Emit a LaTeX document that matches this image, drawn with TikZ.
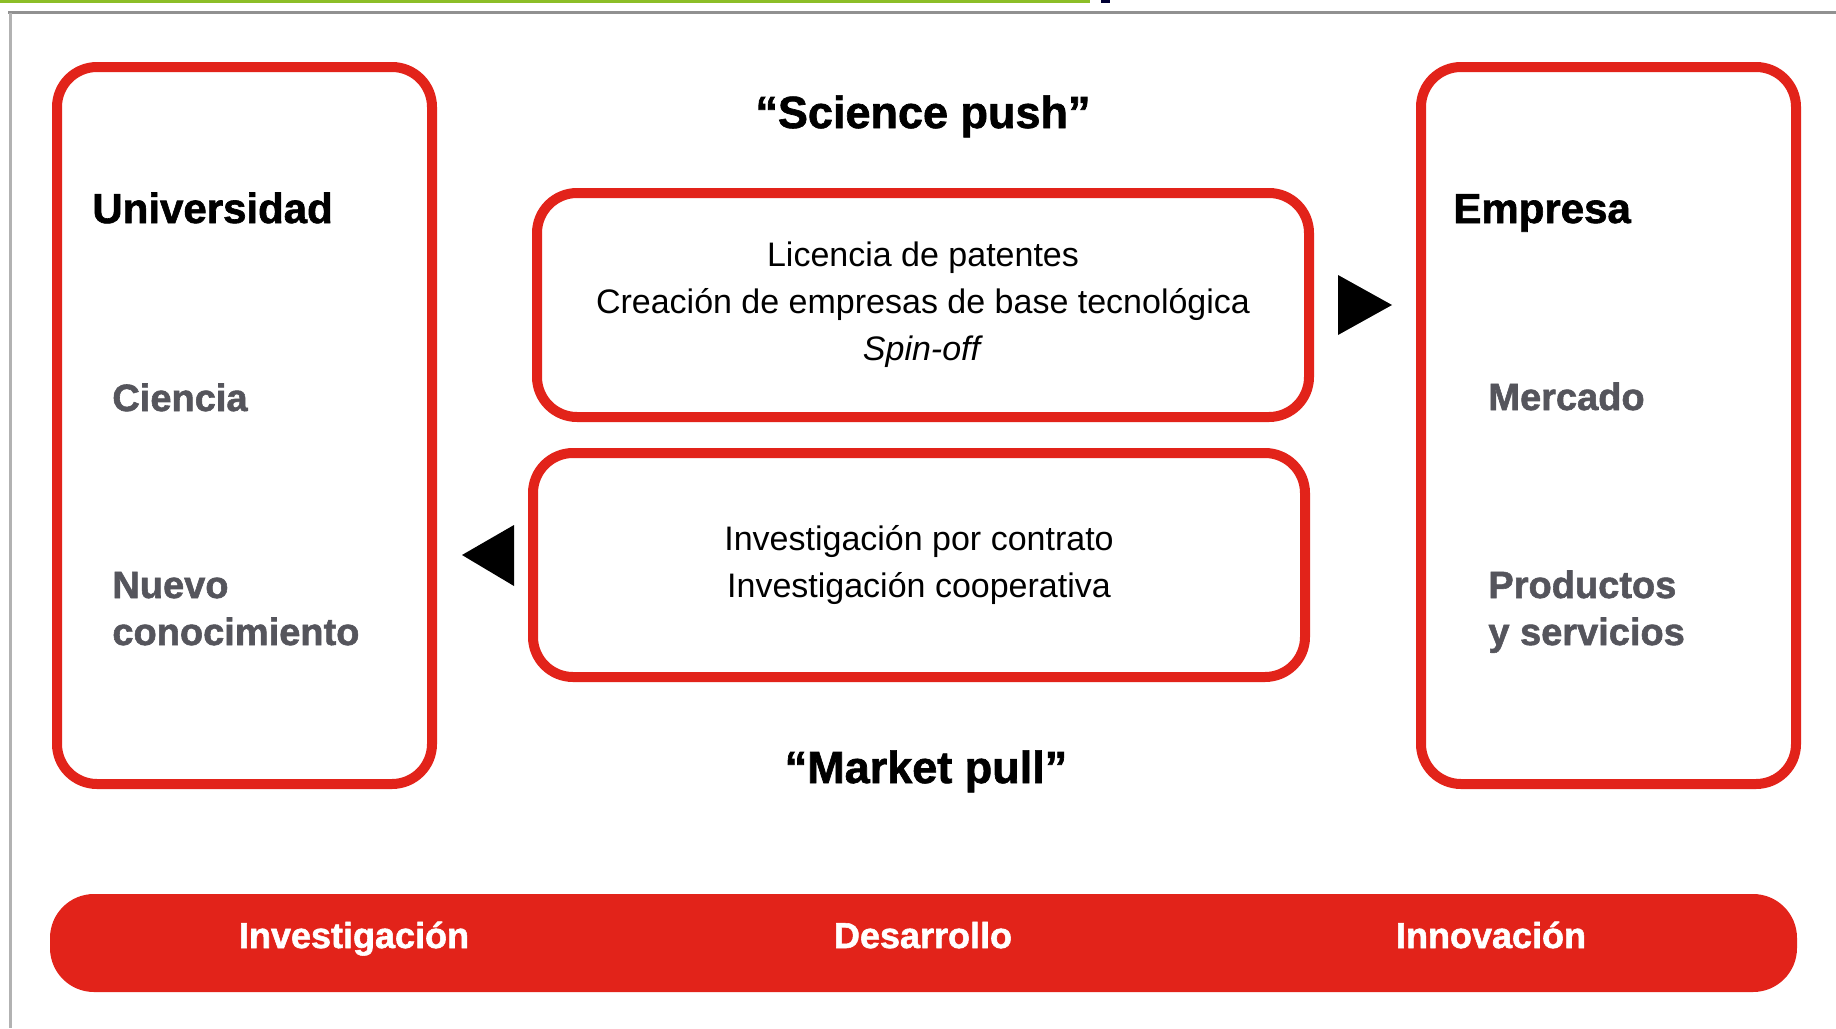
\documentclass[tikz,border=0pt]{standalone}
\usepackage{fontspec}
\setmainfont{Liberation Sans}
\newfontfamily\heavyfont{Liberation Sans Bold}[FakeBold=1.5]
\usetikzlibrary{positioning}

\definecolor{cvred}{RGB}{226,35,26}
\definecolor{labelgray}{RGB}{85,85,92}
\definecolor{framegray}{RGB}{145,145,145}
\definecolor{topgreen}{RGB}{140,190,40}

\begin{document}
\begin{tikzpicture}[x=0.5pt,y=-0.5pt,
  redbox/.style={draw=cvred,line width=5pt,rounded corners=20pt,inner sep=0pt},
  head/.style={font=\heavyfont\fontsize{21}{25}\selectfont,anchor=base west,inner sep=0pt},
  sublabel/.style={font=\heavyfont\fontsize{19}{23.5}\selectfont,text=labelgray,anchor=base west,align=left,inner sep=0pt},
  flow/.style={font=\fontsize{17}{23.5}\selectfont,align=center},
  motto/.style={font=\heavyfont\fontsize{22.5}{27}\selectfont,anchor=base,inner sep=0pt},
  stage/.style={font=\heavyfont\fontsize{18}{22}\selectfont,text=white,anchor=base,inner sep=0pt}]
  \useasboundingbox (0,0) rectangle (1836,1028);

  % page frame
  \fill[topgreen] (0,0) rectangle (1090,2.5);
  \fill[black!80!blue] (1101,0) rectangle (1110,3);
  \draw[framegray,line width=1.5pt] (8,12.5) -- (1836,12.5);
  \draw[black!30,line width=1.5pt] (10,12.5) -- (10,1028);

  % side boxes
  \node[redbox,minimum width=187.5pt,minimum height=358.5pt] (uni) at (244.5,425.5) {};
  \node[redbox,minimum width=187.5pt,minimum height=358.5pt] (emp) at (1608.5,425.5) {};

  \node[head] (unititle) at (92,223) {Universidad};
  \node[sublabel] (ciencia) at (112,411) {Ciencia};
  \node[sublabel] (nuevo) at (112,645) {Nuevo\\conocimiento};

  \node[head] (emptitle) at (1453,223) {Empresa};
  \node[sublabel] (mercado) at (1488,410) {Mercado};
  \node[sublabel] (productos) at (1488,645) {Productos\\y servicios};

  % transfer boxes
  \node[motto] (pushtitle) at (923,128) {“Science push”};
  \node[redbox,flow,minimum width=386pt,minimum height=112pt] (push) at (923,305)
    {Licencia de patentes\\Creación de empresas de base tecnológica\\\textit{Spin-off}};
  \node[redbox,flow,minimum width=386pt,minimum height=112pt] (pull) at (919,565)
    {Investigación por contrato\\Investigación cooperativa};
  \node[motto] (pulltitle) at (926,783) {“Market pull”};

  \fill (1338,275) -- (1392,305) -- (1338,335) -- cycle;
  \fill (514,525) -- (462,555) -- (514,586) -- cycle;

  % bottom bar
  \node[fill=cvred,rounded corners=22pt,minimum width=873.5pt,minimum height=49pt,inner sep=0pt] (bar) at (923.5,943) {};
  \node[stage] (inv) at (354,948) {Investigación};
  \node[stage] (des) at (923,948) {Desarrollo};
  \node[stage] (inn) at (1491,948) {Innovación};
\end{tikzpicture}
\end{document}
